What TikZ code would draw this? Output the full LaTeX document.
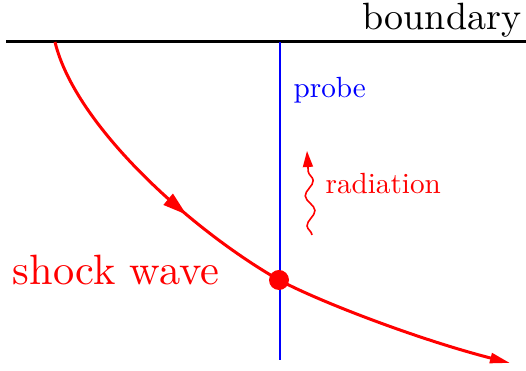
\documentclass[tikz,border=0pt]{standalone}
\usetikzlibrary{arrows.meta,decorations.pathmorphing,decorations.markings}

\begin{document}
\begin{tikzpicture}[x=0.25pt,y=-0.25pt,
    bigtext/.style={font=\fontsize{10.6}{12}\selectfont},
    smalltext/.style={font=\fontsize{10}{12}\selectfont, scale=0.73, transform shape},
    redtip/.style={-{Triangle[length=5pt,width=2.5pt]}}]
\useasboundingbox (0,0) rectangle (526,371);

    % Boundary
\coordinate (bl) at (6,42);
\coordinate (br) at (526,42);
\draw[line width=0.75pt] (bl) -- (br);
\node[font=\fontsize{9.5}{11}\selectfont, anchor=base east, inner sep=0pt] (boundary) at (522,30) {boundary};

% Probe
\coordinate (ptop) at (280,42);
\coordinate (pbot) at (280,360);
\draw[blue, line width=0.5pt] (ptop) -- (pbot);
\node[smalltext, blue, anchor=base west, inner sep=0pt] (probe) at (293,98) {probe};

% Shock wave
\coordinate (sstart) at (55,42);
\coordinate (hit) at (279,280);
\coordinate (send) at (510,363);
\draw[red, line width=0.75pt, redtip,
    postaction={decorate, decoration={markings,
        mark=at position 0.38 with {\arrow{Triangle[length=6pt,width=3.5pt]}}}}]
    (sstart) .. controls (75,125) and (190,229) .. (hit)
    .. controls (320,302) and (420,340) .. (send);
\fill[red] (hit) circle (2.5pt);
\node[bigtext, red, anchor=base west, inner sep=0pt] (shock) at (12,285) {shock wave};

% Radiation
\coordinate (rbot) at (312,235);
\coordinate (rtop) at (307,151);
\draw[red, line width=0.4pt, -{Triangle[length=4pt,width=2.5pt]},
    decorate, decoration={snake, amplitude=1.1pt, segment length=7.5pt, post length=4pt}]
    (rbot) -- (rtop);
\node[smalltext, red, anchor=base west, inner sep=0pt] (radiation) at (325,194) {radiation};

    \end{tikzpicture}
\end{document}
